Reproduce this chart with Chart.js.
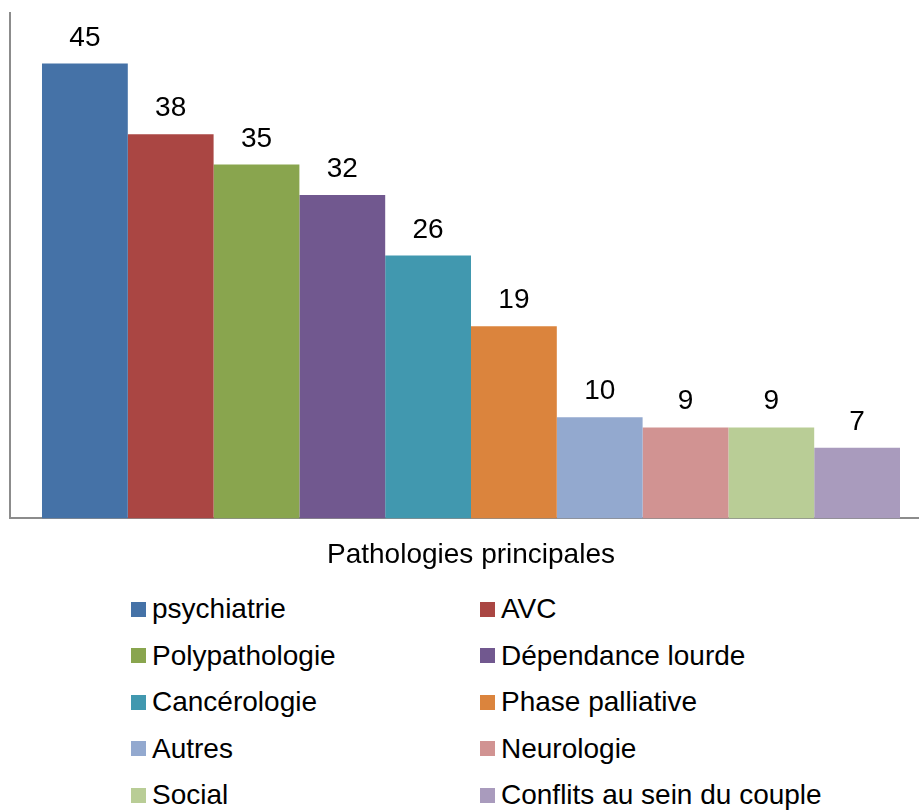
<!DOCTYPE html>
<html lang="fr">
<head>
  <meta charset="UTF-8">
  <title>Pathologies principales</title>
  <script src="https://cdn.jsdelivr.net/npm/chart.js"></script>
</head>
<body style="margin:0;background:#fff;overflow:hidden;width:919px;height:810px;position:relative;font-family:'Liberation Sans',Arial,sans-serif;">
  <div style="position:absolute;left:0;top:0;width:932px;height:572px;">
    <canvas id="patChart" width="932" height="572"></canvas>
  </div>
  <div id="legend" style="position:absolute;left:131px;top:586px;width:760px;display:grid;grid-template-columns:349px 400px;"></div>
  <script>
    // Données
    const categories = ['psychiatrie', 'AVC', 'Polypathologie', 'Dépendance lourde', 'Cancérologie',
                        'Phase palliative', 'Autres', 'Neurologie', 'Social', 'Conflits au sein du couple'];
    const values = [45, 38, 35, 32, 26, 19, 10, 9, 9, 7];
    const colors = ['#4572A7', '#AA4643', '#89A54E', '#71588F', '#4198AF',
                    '#DB843D', '#93A9CF', '#D19392', '#B9CD96', '#A99BBD'];
    const axisTitle = 'Pathologies principales';
    const yMax = 50;

    const FONT = "'Liberation Sans', Arial, sans-serif";

    // valeurs au-dessus des barres
    const valueLabels = {
      id: 'valueLabels',
      afterDatasetsDraw(chart) {
        const ctx = chart.ctx;
        ctx.save();
        ctx.font = '28px ' + FONT;
        ctx.fillStyle = '#000';
        ctx.textAlign = 'center';
        ctx.textBaseline = 'alphabetic';
        chart.data.datasets.forEach((ds, i) => {
          const bar = chart.getDatasetMeta(i).data[0];
          ctx.fillText(ds.data[0], bar.x, bar.y - 18);
        });
        ctx.restore();
      }
    };

    new Chart(document.getElementById('patChart'), {
      type: 'bar',
      data: {
        labels: [''],
        datasets: categories.map((c, i) => ({
          label: c,
          data: [values[i]],
          backgroundColor: colors[i],
          borderWidth: 0
        }))
      },
      options: {
        responsive: false,
        animation: false,
        layout: { padding: { left: 10, right: 0, top: 13, bottom: 0 } },
        datasets: { bar: { barPercentage: 1, categoryPercentage: 0.9306 } },
        plugins: { legend: { display: false }, tooltip: { enabled: false } },
        scales: {
          x: {
            grid: { display: false, drawTicks: false, tickLength: 0 },
            ticks: { display: false },
            border: { display: true, color: '#8c8c8c', width: 2 },
            title: { display: true, text: axisTitle, color: '#000', font: { family: FONT, size: 28 }, padding: { top: 20, bottom: 0 } }
          },
          y: {
            min: 0, max: yMax,
            grid: { display: false, drawTicks: false, tickLength: 0 },
            ticks: { display: false },
            border: { display: true, color: '#8c8c8c', width: 2 }
          }
        }
      },
      plugins: [valueLabels]
    });

    // légende en deux colonnes
    const legend = document.getElementById('legend');
    categories.forEach((c, i) => {
      const item = document.createElement('div');
      item.style.cssText = 'display:flex;align-items:center;height:46.5px;font-size:28px;line-height:46.5px;color:#000;white-space:nowrap;';
      item.innerHTML = `<span style="display:inline-block;width:15px;height:15px;background:${colors[i]};margin-right:6px;"></span>${c}`;
      legend.appendChild(item);
    });
  </script>
</body>
</html>
